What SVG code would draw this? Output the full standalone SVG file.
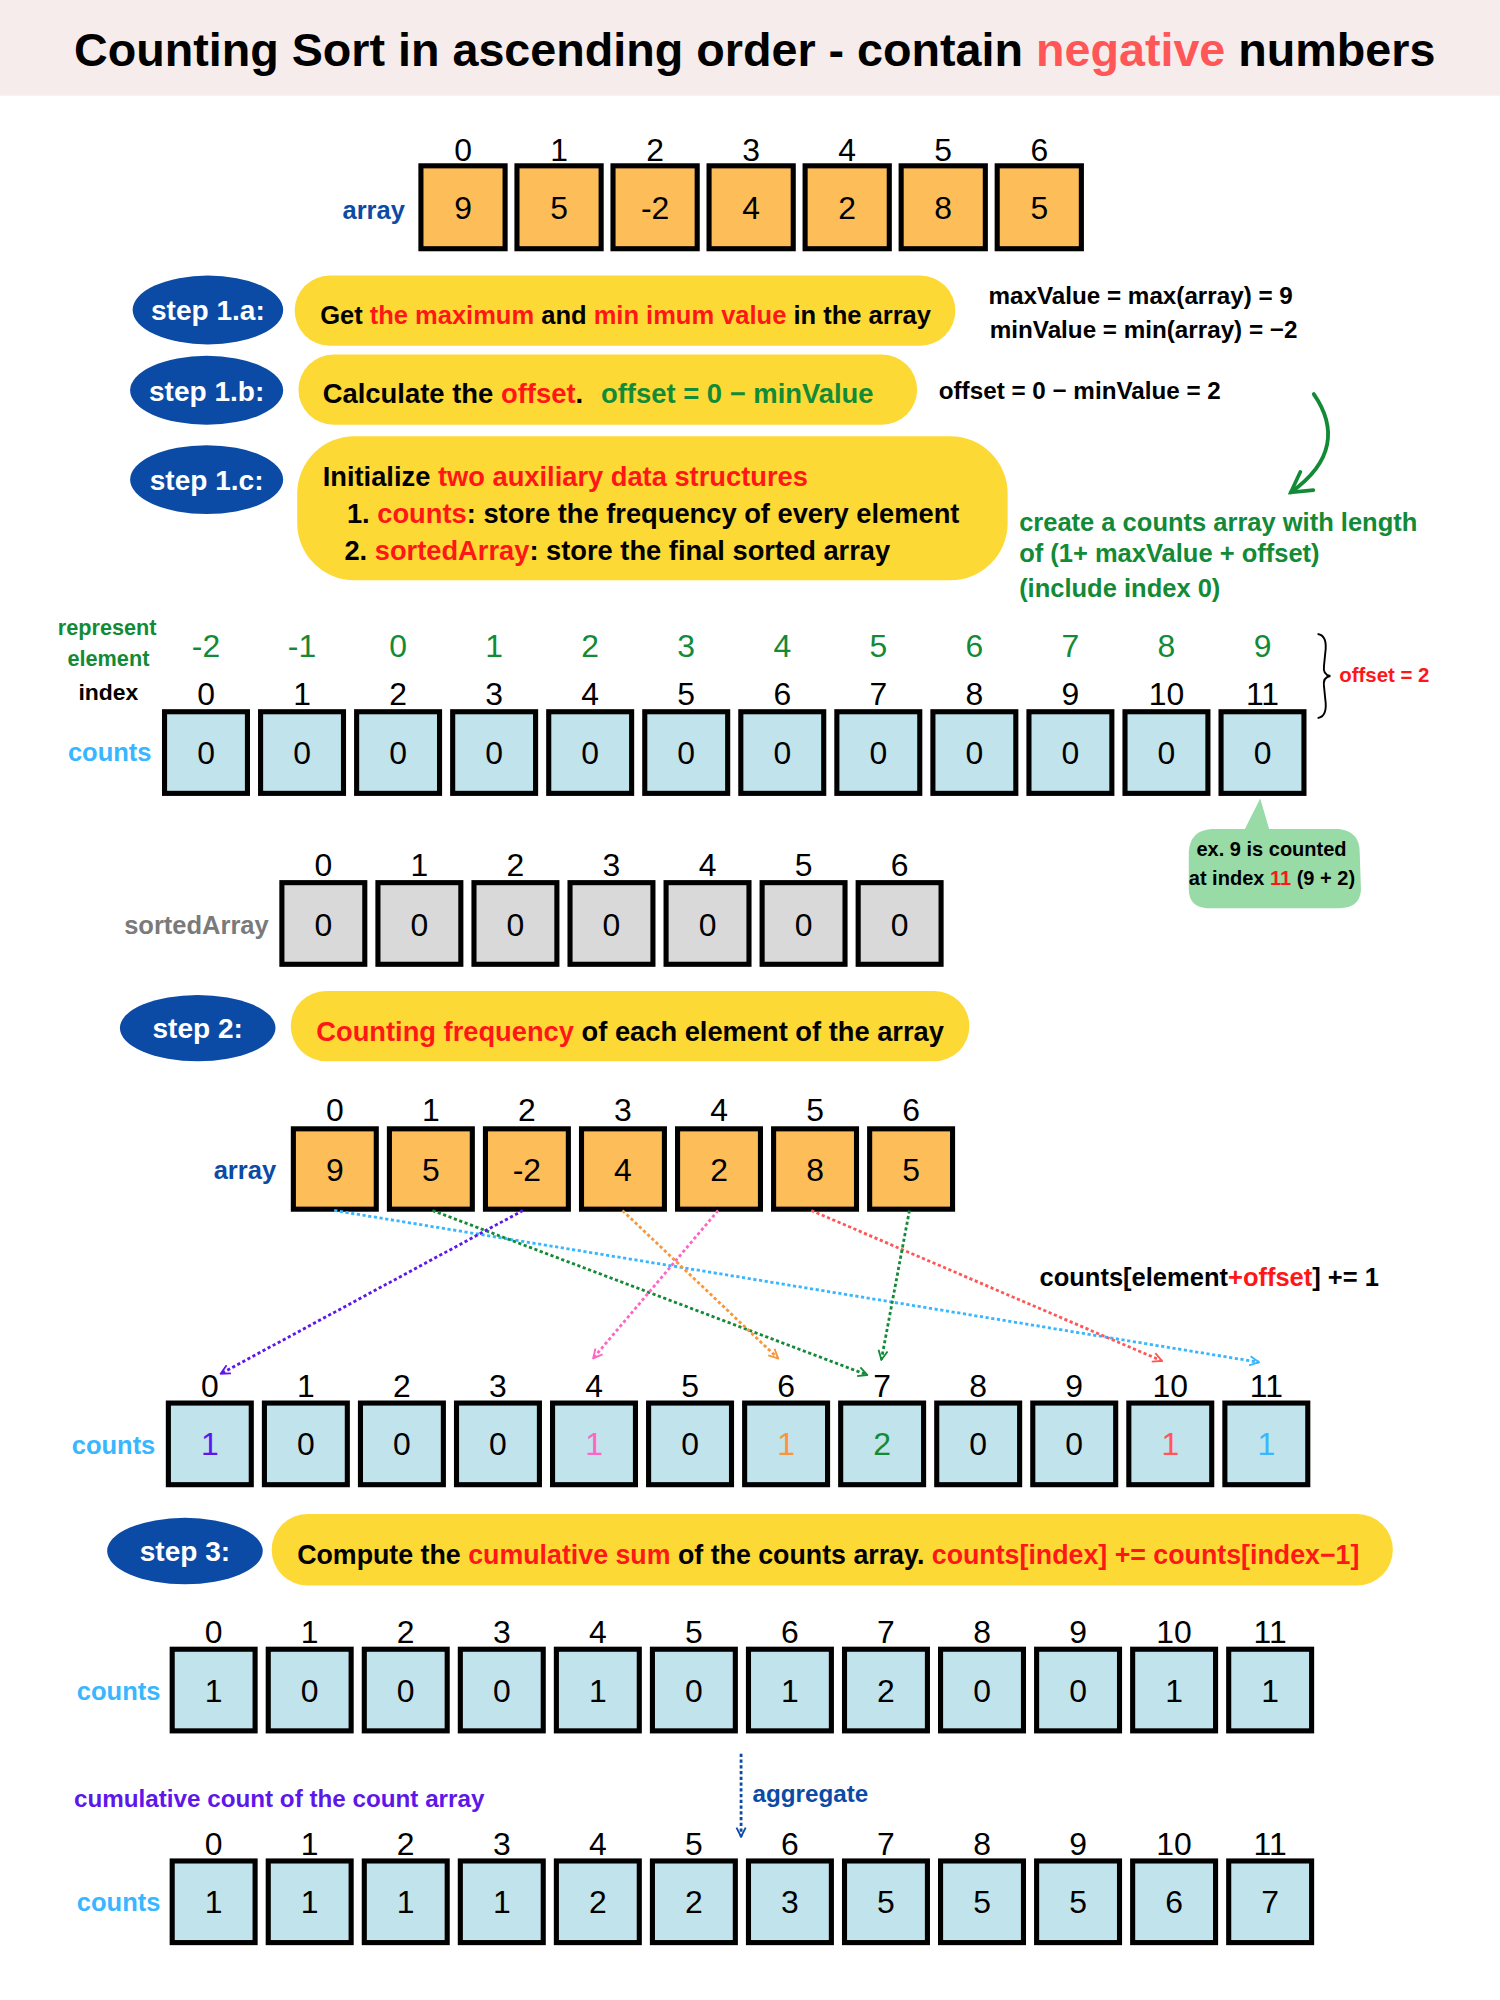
<svg xmlns="http://www.w3.org/2000/svg" width="1500" height="2000" viewBox="0 0 1500 2000">
<defs>
<style>
text{font-family:'Liberation Sans',Arial,sans-serif;}
.idx{font-size:25px;text-anchor:middle;fill:#000;}
.val{font-size:25px;text-anchor:middle;fill:#000;}
.el{font-size:25px;text-anchor:middle;fill:#138a36;}
.bo{fill:#fdbd59;stroke:#000;stroke-width:4;}
.bb{fill:#c0e3ec;stroke:#000;stroke-width:4;}
.bg{fill:#d9d9d9;stroke:#000;stroke-width:4;}
.pill{fill:#fdd935;}
.blob{fill:#0b4ba6;}
.stp{font-size:22px;font-weight:bold;fill:#fff;text-anchor:middle;}
.pt{font-weight:bold;fill:#000;}
.r{fill:#ff1616;}
.g{fill:#138a36;}
.note{font-size:19px;font-weight:bold;fill:#000;}
.gn{font-size:20px;font-weight:bold;fill:#138a36;}
.lbl{font-size:20px;font-weight:bold;text-anchor:middle;}
.dot{fill:none;stroke-width:2.2;stroke-dasharray:2.5 2;}
</style>
<marker id="mLB" viewBox="0 0 10 10" refX="9" refY="5" markerWidth="9" markerHeight="9" orient="auto" markerUnits="userSpaceOnUse"><path d="M1,1 L9,5 L1,9" fill="none" stroke="#38b6ff" stroke-width="1.6"/></marker>
<marker id="mG" viewBox="0 0 10 10" refX="9" refY="5" markerWidth="9" markerHeight="9" orient="auto" markerUnits="userSpaceOnUse"><path d="M1,1 L9,5 L1,9" fill="none" stroke="#138a36" stroke-width="1.6"/></marker>
<marker id="mP" viewBox="0 0 10 10" refX="9" refY="5" markerWidth="9" markerHeight="9" orient="auto" markerUnits="userSpaceOnUse"><path d="M1,1 L9,5 L1,9" fill="none" stroke="#5e17eb" stroke-width="1.6"/></marker>
<marker id="mO" viewBox="0 0 10 10" refX="9" refY="5" markerWidth="9" markerHeight="9" orient="auto" markerUnits="userSpaceOnUse"><path d="M1,1 L9,5 L1,9" fill="none" stroke="#f7963a" stroke-width="1.6"/></marker>
<marker id="mPk" viewBox="0 0 10 10" refX="9" refY="5" markerWidth="9" markerHeight="9" orient="auto" markerUnits="userSpaceOnUse"><path d="M1,1 L9,5 L1,9" fill="none" stroke="#ff66c4" stroke-width="1.6"/></marker>
<marker id="mR" viewBox="0 0 10 10" refX="9" refY="5" markerWidth="9" markerHeight="9" orient="auto" markerUnits="userSpaceOnUse"><path d="M1,1 L9,5 L1,9" fill="none" stroke="#ff5757" stroke-width="1.6"/></marker>
<marker id="mB" viewBox="0 0 10 10" refX="9" refY="5" markerWidth="9" markerHeight="9" orient="auto" markerUnits="userSpaceOnUse"><path d="M1,1 L9,5 L1,9" fill="none" stroke="#0b4ba6" stroke-width="1.6"/></marker>
<marker id="mGc" viewBox="0 0 10 10" refX="8" refY="5" markerWidth="22" markerHeight="22" orient="auto" markerUnits="userSpaceOnUse"><path d="M1,1 L8,5 L1,9" fill="none" stroke="#138a36" stroke-width="1.3" stroke-linecap="round"/></marker>
</defs>
<rect x="0" y="0" width="1500" height="2000" fill="#fff"/>
<g transform="scale(1.27551)">

<g id="title">
<rect x="0" y="0" width="1176" height="75" fill="#f7ecec"/>
<text x="58" y="52" font-size="36.6" font-weight="bold">Counting Sort in ascending order - contain <tspan fill="#ff5757">negative</tspan> numbers</text>
</g>

<g id="array1">
<text x="293" y="172" class="lbl" fill="#0b4ba6">array</text>
<rect class="bo" x="330" y="130" width="66" height="65"/>
<rect class="bo" x="405.3" y="130" width="66" height="65"/>
<rect class="bo" x="480.6" y="130" width="66" height="65"/>
<rect class="bo" x="555.9" y="130" width="66" height="65"/>
<rect class="bo" x="631.2" y="130" width="66" height="65"/>
<rect class="bo" x="706.5" y="130" width="66" height="65"/>
<rect class="bo" x="781.8" y="130" width="66" height="65"/>
<text class="idx" x="363" y="126">0</text><text class="idx" x="438.3" y="126">1</text><text class="idx" x="513.6" y="126">2</text><text class="idx" x="588.9" y="126">3</text><text class="idx" x="664.2" y="126">4</text><text class="idx" x="739.5" y="126">5</text><text class="idx" x="814.8" y="126">6</text>
<text class="val" x="363" y="172">9</text><text class="val" x="438.3" y="172">5</text><text class="val" x="513.6" y="172">-2</text><text class="val" x="588.9" y="172">4</text><text class="val" x="664.2" y="172">2</text><text class="val" x="739.5" y="172">8</text><text class="val" x="814.8" y="172">5</text>
</g>

<g id="step1a">
<ellipse class="blob" cx="163" cy="243" rx="59" ry="27"/>
<text class="stp" x="163" y="251">step 1.a:</text>
<rect class="pill" x="231" y="216" width="518" height="55" rx="27.5"/>
<text class="pt" x="251" y="254" font-size="20">Get <tspan class="r">the maximum</tspan> and <tspan class="r">min imum value</tspan> in the array</text>
<text class="note" x="775" y="238">maxValue = max(array) = 9</text>
<text class="note" x="776" y="265">minValue = min(array) = −2</text>
</g>

<g id="step1b">
<ellipse class="blob" cx="162" cy="306" rx="60" ry="27"/>
<text class="stp" x="162" y="314">step 1.b:</text>
<rect class="pill" x="234" y="278" width="485" height="55" rx="27.5"/>
<text class="pt" x="253" y="316" font-size="21.5">Calculate the <tspan class="r">offset</tspan>.<tspan class="g" dx="8"> offset = 0 − minValue</tspan></text>
<text class="note" x="736" y="313">offset = 0 − minValue = 2</text>
</g>

<g id="step1c">
<ellipse class="blob" cx="162" cy="376" rx="60" ry="27"/>
<text class="stp" x="162" y="384">step 1.c:</text>
<rect class="pill" x="233" y="342" width="557" height="113" rx="45"/>
<text class="pt" x="253" y="381" font-size="21.4">Initialize <tspan class="r">two auxiliary data structures</tspan></text>
<text class="pt" x="272" y="410" font-size="21.4">1. <tspan class="r">counts</tspan>: store the frequency of every element</text>
<text class="pt" x="270" y="439" font-size="21.4">2. <tspan class="r">sortedArray</tspan>: store the final sorted array</text>
</g>

<g id="note-length">
<path d="M1030,309 C1048,335 1046,362 1012,386" fill="none" stroke="#138a36" stroke-width="3" stroke-linecap="round" marker-end="url(#mGc)"/>
<text class="gn" x="799" y="416">create a counts array with length</text>
<text class="gn" x="799" y="441">of (1+ maxValue + offset)</text>
<text class="gn" x="799" y="468">(include index 0)</text>
</g>

<g id="counts1">
<text class="lbl" x="84" y="498" fill="#138a36" style="font-size:17px">represent</text>
<text class="lbl" x="85" y="522" fill="#138a36" style="font-size:17px">element</text>
<text class="lbl" x="85" y="549" fill="#000" style="font-size:18px">index</text>
<text class="lbl" x="86" y="597" fill="#38b6ff">counts</text>
<text class="el" x="161.5" y="515">-2</text><text class="el" x="236.8" y="515">-1</text><text class="el" x="312.1" y="515">0</text><text class="el" x="387.4" y="515">1</text><text class="el" x="462.7" y="515">2</text><text class="el" x="538" y="515">3</text><text class="el" x="613.3" y="515">4</text><text class="el" x="688.6" y="515">5</text><text class="el" x="763.9" y="515">6</text><text class="el" x="839.2" y="515">7</text><text class="el" x="914.5" y="515">8</text><text class="el" x="989.8" y="515">9</text>
<text class="idx" x="161.5" y="553">0</text><text class="idx" x="236.8" y="553">1</text><text class="idx" x="312.1" y="553">2</text><text class="idx" x="387.4" y="553">3</text><text class="idx" x="462.7" y="553">4</text><text class="idx" x="538" y="553">5</text><text class="idx" x="613.3" y="553">6</text><text class="idx" x="688.6" y="553">7</text><text class="idx" x="763.9" y="553">8</text><text class="idx" x="839.2" y="553">9</text><text class="idx" x="914.5" y="553">10</text><text class="idx" x="989.8" y="553">11</text>
<rect class="bb" x="129" y="558" width="65" height="64"/><rect class="bb" x="204.3" y="558" width="65" height="64"/><rect class="bb" x="279.6" y="558" width="65" height="64"/><rect class="bb" x="354.9" y="558" width="65" height="64"/><rect class="bb" x="430.2" y="558" width="65" height="64"/><rect class="bb" x="505.5" y="558" width="65" height="64"/><rect class="bb" x="580.8" y="558" width="65" height="64"/><rect class="bb" x="656.1" y="558" width="65" height="64"/><rect class="bb" x="731.4" y="558" width="65" height="64"/><rect class="bb" x="806.7" y="558" width="65" height="64"/><rect class="bb" x="882" y="558" width="65" height="64"/><rect class="bb" x="957.3" y="558" width="65" height="64"/>
<text class="val" x="161.5" y="599">0</text><text class="val" x="236.8" y="599">0</text><text class="val" x="312.1" y="599">0</text><text class="val" x="387.4" y="599">0</text><text class="val" x="462.7" y="599">0</text><text class="val" x="538" y="599">0</text><text class="val" x="613.3" y="599">0</text><text class="val" x="688.6" y="599">0</text><text class="val" x="763.9" y="599">0</text><text class="val" x="839.2" y="599">0</text><text class="val" x="914.5" y="599">0</text><text class="val" x="989.8" y="599">0</text>
<path d="M1033,497 Q1041,498 1039,512 L1038,522 Q1037,529 1043,530 Q1037,531 1038,538 L1039,548 Q1041,562 1033,563" fill="none" stroke="#000" stroke-width="1.5"/>
<text x="1050" y="535" font-size="16" font-weight="bold" fill="#ff1616">offset = 2</text>
</g>

<g id="bubble">
<path d="M950,650 L976,650 L988,626 L995,650 L1050,650 Q1066,652 1066,668 L1067,698 Q1066,712 1050,712 L946,712 Q932,711 932,697 L932,668 Q933,651 950,650 Z" fill="#98dba6"/>
<text x="938" y="671" font-size="15.7" font-weight="bold">ex. 9 is counted</text>
<text x="932" y="694" font-size="15.7" font-weight="bold">at index <tspan fill="#ff1616">11</tspan> (9 + 2)</text>
</g>

<g id="sortedArray">
<text class="lbl" x="154" y="732" fill="#7a7a7a">sortedArray</text>
<rect class="bg" x="221" y="692" width="65" height="64"/><rect class="bg" x="296.3" y="692" width="65" height="64"/><rect class="bg" x="371.6" y="692" width="65" height="64"/><rect class="bg" x="446.9" y="692" width="65" height="64"/><rect class="bg" x="522.2" y="692" width="65" height="64"/><rect class="bg" x="597.5" y="692" width="65" height="64"/><rect class="bg" x="672.8" y="692" width="65" height="64"/>
<text class="idx" x="253.5" y="687">0</text><text class="idx" x="328.8" y="687">1</text><text class="idx" x="404.1" y="687">2</text><text class="idx" x="479.4" y="687">3</text><text class="idx" x="554.7" y="687">4</text><text class="idx" x="630" y="687">5</text><text class="idx" x="705.3" y="687">6</text>
<text class="val" x="253.5" y="734">0</text><text class="val" x="328.8" y="734">0</text><text class="val" x="404.1" y="734">0</text><text class="val" x="479.4" y="734">0</text><text class="val" x="554.7" y="734">0</text><text class="val" x="630" y="734">0</text><text class="val" x="705.3" y="734">0</text>
</g>

<g id="step2">
<ellipse class="blob" cx="155" cy="806" rx="61" ry="26"/>
<text class="stp" x="155" y="814">step 2:</text>
<rect class="pill" x="228" y="777" width="532" height="55" rx="27.5"/>
<text class="pt" x="248" y="816" font-size="21.4"><tspan class="r">Counting frequency</tspan> of each element of the array</text>
</g>

<g id="array2">
<text x="192" y="924" class="lbl" fill="#0b4ba6">array</text>
<rect class="bo" x="230" y="885" width="65" height="63"/><rect class="bo" x="305.3" y="885" width="65" height="63"/><rect class="bo" x="380.6" y="885" width="65" height="63"/><rect class="bo" x="455.9" y="885" width="65" height="63"/><rect class="bo" x="531.2" y="885" width="65" height="63"/><rect class="bo" x="606.5" y="885" width="65" height="63"/><rect class="bo" x="681.8" y="885" width="65" height="63"/>
<text class="idx" x="262.5" y="879">0</text><text class="idx" x="337.8" y="879">1</text><text class="idx" x="413.1" y="879">2</text><text class="idx" x="488.4" y="879">3</text><text class="idx" x="563.7" y="879">4</text><text class="idx" x="639" y="879">5</text><text class="idx" x="714.3" y="879">6</text>
<text class="val" x="262.5" y="926">9</text><text class="val" x="337.8" y="926">5</text><text class="val" x="413.1" y="926">-2</text><text class="val" x="488.4" y="926">4</text><text class="val" x="563.7" y="926">2</text><text class="val" x="639" y="926">8</text><text class="val" x="714.3" y="926">5</text>
</g>

<g id="connectors">
<line class="dot" x1="262" y1="949" x2="987" y2="1068" stroke="#38b6ff" marker-end="url(#mLB)"/>
<line class="dot" x1="339" y1="949" x2="680" y2="1078" stroke="#138a36" marker-end="url(#mG)"/>
<line class="dot" x1="410" y1="949" x2="173" y2="1077" stroke="#5e17eb" marker-end="url(#mP)"/>
<line class="dot" x1="488" y1="949" x2="610" y2="1065" stroke="#f7963a" marker-end="url(#mO)"/>
<line class="dot" x1="563" y1="949" x2="465" y2="1065" stroke="#ff66c4" marker-end="url(#mPk)"/>
<line class="dot" x1="636" y1="949" x2="911" y2="1067" stroke="#ff5757" marker-end="url(#mR)"/>
<line class="dot" x1="713" y1="949" x2="691" y2="1066" stroke="#138a36" marker-end="url(#mG)"/>
<line class="dot" x1="581" y1="1375" x2="581" y2="1440" stroke="#0b4ba6" marker-end="url(#mB)"/>
</g>

<g id="formula">
<text x="815" y="1008" font-size="20" font-weight="bold">counts[element<tspan class="r">+offset</tspan>] += 1</text>
</g>

<g id="counts2">
<text class="lbl" x="89" y="1140" fill="#38b6ff">counts</text>
<text class="idx" x="164.5" y="1095">0</text><text class="idx" x="239.8" y="1095">1</text><text class="idx" x="315.1" y="1095">2</text><text class="idx" x="390.4" y="1095">3</text><text class="idx" x="465.7" y="1095">4</text><text class="idx" x="541" y="1095">5</text><text class="idx" x="616.3" y="1095">6</text><text class="idx" x="691.6" y="1095">7</text><text class="idx" x="766.9" y="1095">8</text><text class="idx" x="842.2" y="1095">9</text><text class="idx" x="917.5" y="1095">10</text><text class="idx" x="992.8" y="1095">11</text>
<rect class="bb" x="132" y="1100" width="65" height="64"/><rect class="bb" x="207.3" y="1100" width="65" height="64"/><rect class="bb" x="282.6" y="1100" width="65" height="64"/><rect class="bb" x="357.9" y="1100" width="65" height="64"/><rect class="bb" x="433.2" y="1100" width="65" height="64"/><rect class="bb" x="508.5" y="1100" width="65" height="64"/><rect class="bb" x="583.8" y="1100" width="65" height="64"/><rect class="bb" x="659.1" y="1100" width="65" height="64"/><rect class="bb" x="734.4" y="1100" width="65" height="64"/><rect class="bb" x="809.7" y="1100" width="65" height="64"/><rect class="bb" x="885" y="1100" width="65" height="64"/><rect class="bb" x="960.3" y="1100" width="65" height="64"/>
<text class="val" x="164.5" y="1141" style="fill:#5e17eb">1</text><text class="val" x="239.8" y="1141">0</text><text class="val" x="315.1" y="1141">0</text><text class="val" x="390.4" y="1141">0</text><text class="val" x="465.7" y="1141" style="fill:#ff66c4">1</text><text class="val" x="541" y="1141">0</text><text class="val" x="616.3" y="1141" style="fill:#f7963a">1</text><text class="val" x="691.6" y="1141" style="fill:#138a36">2</text><text class="val" x="766.9" y="1141">0</text><text class="val" x="842.2" y="1141">0</text><text class="val" x="917.5" y="1141" style="fill:#ff5757">1</text><text class="val" x="992.8" y="1141" style="fill:#38b6ff">1</text>
</g>

<g id="step3">
<ellipse class="blob" cx="145" cy="1216" rx="61" ry="26"/>
<text class="stp" x="145" y="1224">step 3:</text>
<rect class="pill" x="213" y="1187" width="879" height="56" rx="28"/>
<text class="pt" x="233" y="1226" font-size="21">Compute the <tspan class="r">cumulative sum</tspan> of the counts array. <tspan class="r">counts[index] += counts[index−1]</tspan></text>
</g>

<g id="counts3">
<text class="lbl" x="93" y="1333" fill="#38b6ff">counts</text>
<text class="idx" x="167.5" y="1288">0</text><text class="idx" x="242.8" y="1288">1</text><text class="idx" x="318.1" y="1288">2</text><text class="idx" x="393.4" y="1288">3</text><text class="idx" x="468.7" y="1288">4</text><text class="idx" x="544" y="1288">5</text><text class="idx" x="619.3" y="1288">6</text><text class="idx" x="694.6" y="1288">7</text><text class="idx" x="769.9" y="1288">8</text><text class="idx" x="845.2" y="1288">9</text><text class="idx" x="920.5" y="1288">10</text><text class="idx" x="995.8" y="1288">11</text>
<rect class="bb" x="135" y="1293" width="65" height="64"/><rect class="bb" x="210.3" y="1293" width="65" height="64"/><rect class="bb" x="285.6" y="1293" width="65" height="64"/><rect class="bb" x="360.9" y="1293" width="65" height="64"/><rect class="bb" x="436.2" y="1293" width="65" height="64"/><rect class="bb" x="511.5" y="1293" width="65" height="64"/><rect class="bb" x="586.8" y="1293" width="65" height="64"/><rect class="bb" x="662.1" y="1293" width="65" height="64"/><rect class="bb" x="737.4" y="1293" width="65" height="64"/><rect class="bb" x="812.7" y="1293" width="65" height="64"/><rect class="bb" x="888" y="1293" width="65" height="64"/><rect class="bb" x="963.3" y="1293" width="65" height="64"/>
<text class="val" x="167.5" y="1334">1</text><text class="val" x="242.8" y="1334">0</text><text class="val" x="318.1" y="1334">0</text><text class="val" x="393.4" y="1334">0</text><text class="val" x="468.7" y="1334">1</text><text class="val" x="544" y="1334">0</text><text class="val" x="619.3" y="1334">1</text><text class="val" x="694.6" y="1334">2</text><text class="val" x="769.9" y="1334">0</text><text class="val" x="845.2" y="1334">0</text><text class="val" x="920.5" y="1334">1</text><text class="val" x="995.8" y="1334">1</text>
</g>

<g id="cumulative-labels">
<text x="58" y="1417" font-size="19" font-weight="bold" fill="#5e17eb">cumulative count of the count array</text>
<text x="590" y="1413" font-size="19" font-weight="bold" fill="#0b4ba6">aggregate</text>
</g>

<g id="counts4">
<text class="lbl" x="93" y="1498" fill="#38b6ff">counts</text>
<text class="idx" x="167.5" y="1454">0</text><text class="idx" x="242.8" y="1454">1</text><text class="idx" x="318.1" y="1454">2</text><text class="idx" x="393.4" y="1454">3</text><text class="idx" x="468.7" y="1454">4</text><text class="idx" x="544" y="1454">5</text><text class="idx" x="619.3" y="1454">6</text><text class="idx" x="694.6" y="1454">7</text><text class="idx" x="769.9" y="1454">8</text><text class="idx" x="845.2" y="1454">9</text><text class="idx" x="920.5" y="1454">10</text><text class="idx" x="995.8" y="1454">11</text>
<rect class="bb" x="135" y="1459" width="65" height="64"/><rect class="bb" x="210.3" y="1459" width="65" height="64"/><rect class="bb" x="285.6" y="1459" width="65" height="64"/><rect class="bb" x="360.9" y="1459" width="65" height="64"/><rect class="bb" x="436.2" y="1459" width="65" height="64"/><rect class="bb" x="511.5" y="1459" width="65" height="64"/><rect class="bb" x="586.8" y="1459" width="65" height="64"/><rect class="bb" x="662.1" y="1459" width="65" height="64"/><rect class="bb" x="737.4" y="1459" width="65" height="64"/><rect class="bb" x="812.7" y="1459" width="65" height="64"/><rect class="bb" x="888" y="1459" width="65" height="64"/><rect class="bb" x="963.3" y="1459" width="65" height="64"/>
<text class="val" x="167.5" y="1500">1</text><text class="val" x="242.8" y="1500">1</text><text class="val" x="318.1" y="1500">1</text><text class="val" x="393.4" y="1500">1</text><text class="val" x="468.7" y="1500">2</text><text class="val" x="544" y="1500">2</text><text class="val" x="619.3" y="1500">3</text><text class="val" x="694.6" y="1500">5</text><text class="val" x="769.9" y="1500">5</text><text class="val" x="845.2" y="1500">5</text><text class="val" x="920.5" y="1500">6</text><text class="val" x="995.8" y="1500">7</text>
</g>

</g>
</svg>
